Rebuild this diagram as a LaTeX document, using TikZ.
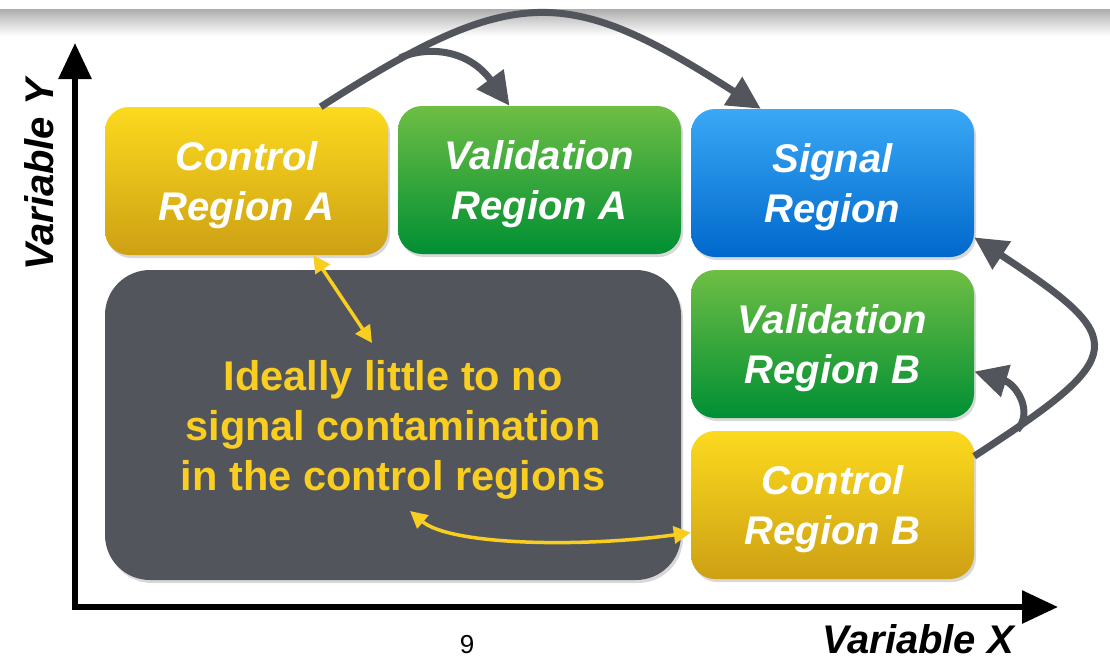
\documentclass[tikz,border=0pt]{standalone}
\usepackage{fontspec}
\setmainfont{Liberation Sans}
\usetikzlibrary{arrows.meta,shadows}
\definecolor{yeltop}{RGB}{252,218,30}
\definecolor{yelbot}{RGB}{205,160,20}
\definecolor{grntop}{RGB}{110,190,68}
\definecolor{grnbot}{RGB}{0,143,52}
\definecolor{blutop}{RGB}{58,168,245}
\definecolor{blubot}{RGB}{0,104,204}
\definecolor{slate}{RGB}{82,86,92}
\definecolor{signyel}{RGB}{250,206,32}

\tikzset{
  region/.style={rounded corners=24pt, minimum width=283pt, minimum height=148pt,
    inner sep=0pt, text=white, align=center, text depth=-3pt,
    font=\fontsize{40}{50}\selectfont\bfseries\itshape,
    drop shadow={shadow xshift=2pt,shadow yshift=-3pt,opacity=0.3}},
  ctrlbox/.style={region, top color=yeltop, bottom color=yelbot},
  validbox/.style={region, top color=grntop, bottom color=grnbot},
  signalbox/.style={region, top color=blutop, bottom color=blubot},
  flow/.style={draw=slate, line width=7pt, -{Triangle[length=33pt,width=32pt]}},
  leak/.style={draw=signyel, line width=3.5pt,
    {Triangle[length=17pt,width=17pt]}-{Triangle[length=17pt,width=17pt]}},
  axislabel/.style={font=\fontsize{40}{48}\selectfont\bfseries\itshape, inner sep=0pt}
}

\begin{document}
\begin{tikzpicture}[x=1pt,y=-1pt]
\useasboundingbox[fill=white] (0,0) rectangle (1110,662);
\shade[top color=black!32, bottom color=white] (0,9) rectangle (1110,36);

\coordinate (origin) at (75,607);
\coordinate (ytip) at (75,43);
\coordinate (xtip) at (1058,607);
\draw[line width=6pt, miter limit=10,
  {Triangle[length=36pt,width=32pt]}-{Triangle[length=36pt,width=32pt]}]
  (ytip) -- (origin) -- (xtip);
\node[axislabel, rotate=90, anchor=base] (ylabel) at (53,175) {Variable Y};
\node[axislabel, anchor=base] (xlabel) at (918,653) {Variable X};
\node[font=\fontsize{26}{30}\selectfont] (page) at (467,645) {9};

\node[rounded corners=45pt, fill=slate, minimum width=576pt, minimum height=310pt,
  inner sep=0pt, text=signyel, align=center, text depth=-3pt,
  font=\fontsize{41.5}{50}\selectfont\bfseries,
  drop shadow={shadow xshift=2pt,shadow yshift=-3pt,opacity=0.3}]
  (bulk) at (393,425) {Ideally little to no\\signal contamination\\in the control regions};

\node[ctrlbox] (cra) at (246.5,181) {Control\\Region A};
\node[validbox] (vra) at (539.5,180) {Validation\\Region A};
\node[signalbox] (sr) at (832.5,183) {Signal\\Region};
\node[validbox] (vrb) at (832.5,344) {Validation\\Region B};
\node[ctrlbox] (crb) at (832.5,505) {Control\\Region B};

\coordinate (splitA) at (400,58);
\coordinate (splitB) at (1017,430);
\draw[flow] (cra.45) .. controls (515,-18) and (568,-15) .. (sr.134);
\draw[flow] (splitA) .. controls (420,48) and (465,45) .. (vra.112);
\draw[flow] (crb.19) .. controls (1130,355) and (1130,340) .. (sr.-21);
\draw[flow] (splitB) .. controls (1034,412) and (1016,384) .. (vrb.-11);

\coordinate (insideA) at (372,343);
\coordinate (insideB) at (410,511);
\draw[leak] (cra.-48.5) -- (insideA);
\draw[leak] (insideB) .. controls (450,545) and (580,548) .. (crb.191);
\end{tikzpicture}
\end{document}
